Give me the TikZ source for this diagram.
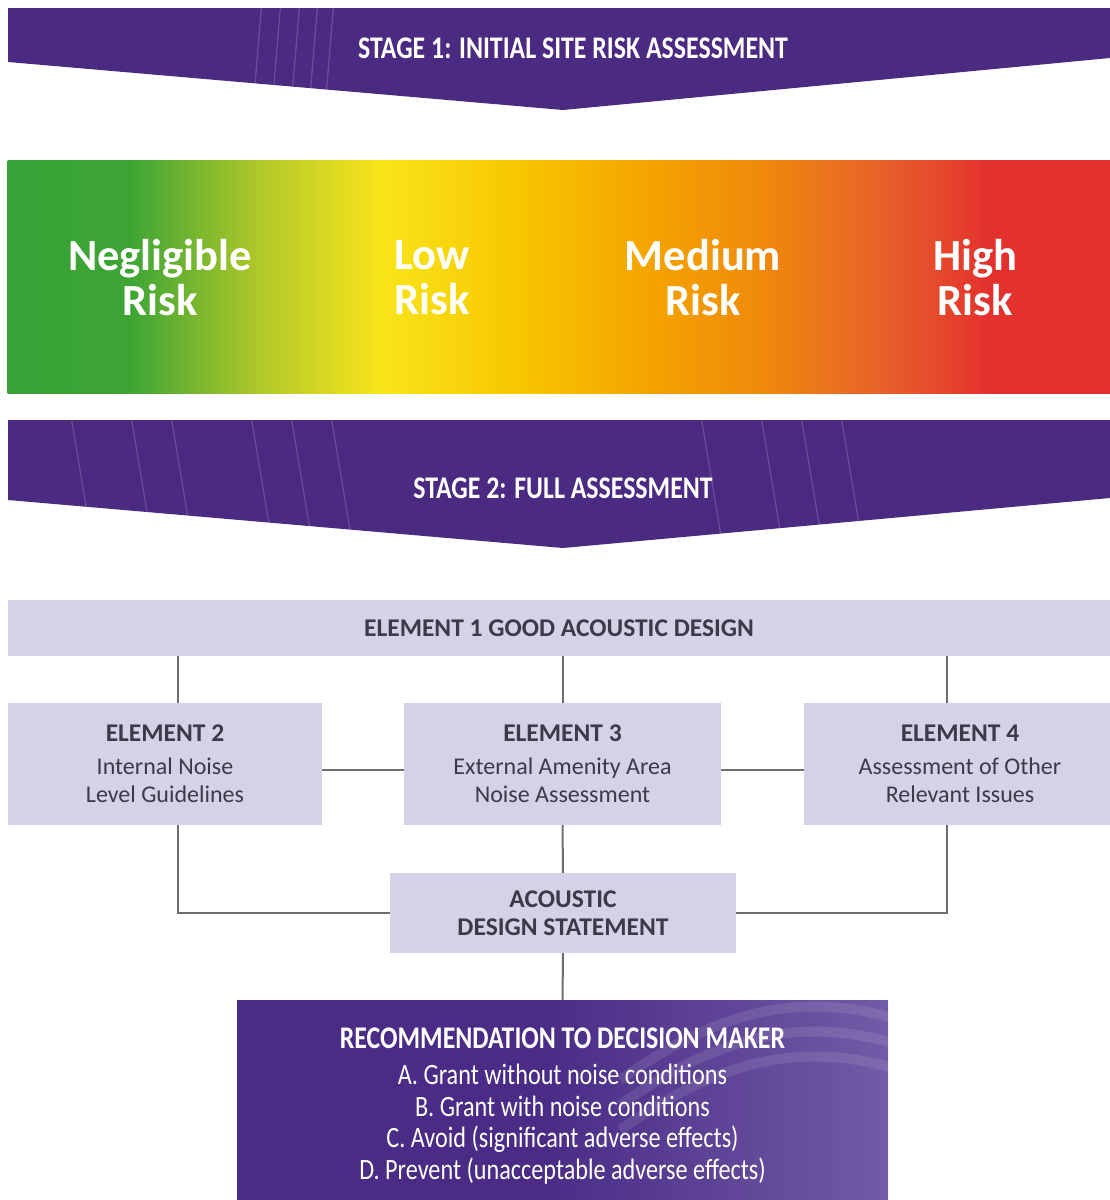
\documentclass[tikz,border=0pt]{standalone}
\usepackage{fontspec}
\setmainfont{Carlito}
\newfontfamily\narrowfont[FakeStretch=0.82]{Carlito}
\usepackage{xcolor}
\usepackage{tikz}
\usetikzlibrary{positioning}

\definecolor{stagepurple}{HTML}{4B2A82}
\definecolor{recpurple}{HTML}{4A2C86}
\definecolor{reclight}{HTML}{9482C2}
\definecolor{lavender}{HTML}{D6D1E6}
\definecolor{linegray}{HTML}{6E6E6E}
\definecolor{textgray}{HTML}{3A3A48}
\definecolor{rk0}{HTML}{37A236}
\definecolor{rk1}{HTML}{3DA535}
\definecolor{rk2}{HTML}{A9C52A}
\definecolor{rk3}{HTML}{F9E51B}
\definecolor{rk4}{HTML}{F7C600}
\definecolor{rk5}{HTML}{F5A300}
\definecolor{rk6}{HTML}{EF8A0B}
\definecolor{rk7}{HTML}{E8622A}
\definecolor{rk8}{HTML}{E3312D}

\begin{document}
\begin{tikzpicture}[
      x=1pt, y=-1pt,
      bannertext/.style={text=white, font=\narrowfont\bfseries\fontsize{31.5}{34}\selectfont},
      riskname/.style={text=white, align=center, font=\bfseries\fontsize{44.5}{45}\selectfont},
      elbox/.style={fill=lavender, text=textgray, align=center, inner sep=0pt,
        font=\fontsize{24}{28}\selectfont},
      elhead/.style={font=\bfseries\fontsize{25.5}{28}\selectfont},
      recbox/.style={fill=recpurple, inner sep=0pt},
      rectext/.style={text=white, align=center, inner sep=0pt,
        font=\narrowfont\fontsize{29.5}{31.5}\selectfont},
      link/.style={draw=linegray, line width=2pt},
      streak/.style={white, opacity=0.18, line width=1.2pt}
    ]
    \useasboundingbox (0,0) rectangle (1110,1200);

    % stage 1 banner
    \fill[stagepurple] (8,8) -- (1110,8) -- (1110,58) -- (563,110) -- (8,62) -- cycle;
    \begin{scope}
      \clip (8,8) -- (1110,8) -- (1110,58) -- (563,110) -- (8,62) -- cycle;
      \foreach \sx in {262,281,300,318,334}
        \draw[streak] (\sx,0) -- (\sx-10,120);
    \end{scope}
    \node[bannertext] (stage1) at (573,48) {STAGE 1: INITIAL SITE RISK ASSESSMENT};

    % risk bar
    \foreach \xa/\ca/\xb/\cb in {8/rk0/130/rk1, 130/rk1/250/rk2, 250/rk2/380/rk3,
        380/rk3/520/rk4, 520/rk4/650/rk5, 650/rk5/760/rk6, 760/rk6/880/rk7,
        880/rk7/990/rk8, 990/rk8/1110/rk8}
      \shade[left color=\ca, right color=\cb] (\xa-0.5,160) rectangle (\xb+0.5,393);
    \node[riskname] (negl) at (160,278) {Negligible\\Risk};
    \node[riskname] (low) at (432,278) {Low\\Risk};
    \node[riskname] (med) at (703,278) {Medium\\Risk};
    \node[riskname] (high) at (975,278) {High\\Risk};

    % stage 2 banner
    \fill[stagepurple] (8,420) -- (1110,420) -- (1110,498) -- (563,548) -- (8,500) -- cycle;
    \begin{scope}
      \clip (8,420) -- (1110,420) -- (1110,498) -- (563,548) -- (8,500) -- cycle;
      \foreach \sx in {70,130,170,250,290,330,700,760,800,840}
        \draw[streak] (\sx,410) -- (\sx+25,560);
    \end{scope}
    \node[bannertext] (stage2) at (563,488) {STAGE 2: FULL ASSESSMENT};

    % elements
    \node[elbox, elhead, minimum width=1102pt, minimum height=56pt] (el1) at (559,628)
      {ELEMENT 1 GOOD ACOUSTIC DESIGN};
    \node[elbox, minimum width=314pt, minimum height=122pt] (el2) at (165,764)
      {{\bfseries\fontsize{25.5}{28}\selectfont ELEMENT 2}\\[5pt]Internal Noise\\Level Guidelines};
    \node[elbox, minimum width=317pt, minimum height=122pt] (el3) at (562.5,764)
      {{\bfseries\fontsize{25.5}{28}\selectfont ELEMENT 3}\\[5pt]External Amenity Area\\Noise Assessment};
    \node[elbox, minimum width=312pt, minimum height=122pt] (el4) at (960,764)
      {{\bfseries\fontsize{25.5}{28}\selectfont ELEMENT 4}\\[5pt]Assessment of Other\\Relevant Issues};
    \node[elbox, elhead, minimum width=346pt, minimum height=80pt] (ads) at (563,913)
      {ACOUSTIC\\DESIGN STATEMENT};

    % recommendation
    \node[recbox, minimum width=651pt, minimum height=206pt] (rec) at (562.5,1103) {};
    \begin{scope}
      \clip (237,1000) rectangle (888,1206);
      \shade[left color=recpurple, right color=reclight, opacity=0.55] (540,1000) rectangle (888,1206);
      \foreach \sy in {1010,1035,1060}
        \draw[white, opacity=0.10, line width=10pt] (620,\sy+70) .. controls (720,\sy) and (800,\sy-20) .. (900,\sy+10);
    \end{scope}
    \node[rectext, font=\narrowfont\bfseries\fontsize{31.5}{32}\selectfont] (rectitle) at (562.5,1038)
      {RECOMMENDATION TO DECISION MAKER};
    \node[rectext] (recopts) at (562.5,1124)
      {A. Grant without noise conditions\\
       B. Grant with noise conditions\\
       C. Avoid (significant adverse effects)\\
       D. Prevent (unacceptable adverse effects)};

    % connectors
    \coordinate (jl) at (178,0);
    \coordinate (jr) at (947,0);
    \draw[link] (el1.south -| jl) -- (el2.north -| jl);
    \draw[link] (el1.south -| el3) -- (el3.north);
    \draw[link] (el1.south -| jr) -- (el4.north -| jr);
    \draw[link] ([yshift=-6pt]el2.east) -- ([yshift=-6pt]el3.west);
    \draw[link] ([yshift=-6pt]el3.east) -- ([yshift=-6pt]el4.west);
    \draw[link] (el2.south -| jl) |- (ads.west);
    \draw[link] (el4.south -| jr) |- (ads.east);
    \draw[link] (el3.south) -- (ads.north);
    \draw[link] (ads.south) -- (rec.north);
  \end{tikzpicture}
\end{document}
